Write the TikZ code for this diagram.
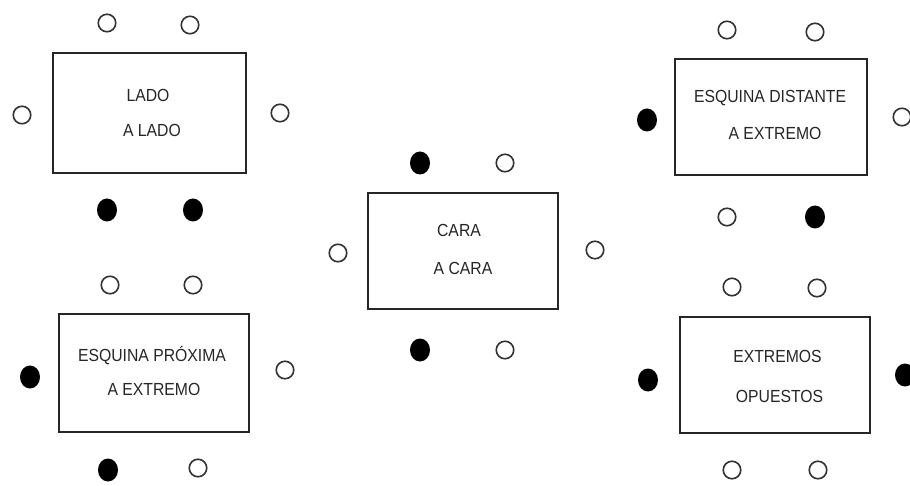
\documentclass[tikz,border=0pt]{standalone}
\usepackage{fontspec}
\setmainfont{Liberation Sans}
\usetikzlibrary{shapes.geometric}
% narrow caption text used inside the tables
\newcommand{\tabletext}[1]{\scalebox{0.9}[1]{#1}}
\begin{document}
\begin{tikzpicture}[x=1pt,y=-1pt,
  tablebox/.style={draw=black!85,line width=1.8pt,rectangle,inner sep=0pt},
  freeseat/.style={draw=black!80,line width=1.6pt,circle,minimum size=17.5pt,inner sep=0pt,fill=white},
  takenseat/.style={fill=black,ellipse,minimum width=20pt,minimum height=23pt,inner sep=0pt},
  lbl/.style={font=\fontsize{17.5}{20}\selectfont,text=black!85,inner sep=0pt,anchor=base}]
\useasboundingbox (0,0) rectangle (910,486);

% Lado a lado
\node[tablebox,minimum width=193pt,minimum height=120pt] (t1) at (149.5,113) {};
\node[lbl] (t1a) at (148,102) {\tabletext{LADO}};
\node[lbl] (t1b) at (152,137) {\tabletext{A LADO}};
\node[freeseat] (s1a) at (107,23) {};
\node[freeseat] (s1b) at (190,25) {};
\node[freeseat] (s1c) at (22,115) {};
\node[freeseat] (s1d) at (280,113) {};
\node[takenseat] (s1e) at (107,210) {};
\node[takenseat] (s1f) at (193,210) {};

% Esquina proxima a extremo
\node[tablebox,minimum width=190pt,minimum height=118pt] (t2) at (154,373) {};
\node[lbl] (t2a) at (152,361) {\tabletext{ESQUINA PRÓXIMA}};
\node[lbl] (t2b) at (154,395) {\tabletext{A EXTREMO}};
\node[freeseat] (s2a) at (110,285) {};
\node[freeseat] (s2b) at (193,285) {};
\node[takenseat] (s2c) at (30,377) {};
\node[freeseat] (s2d) at (285,370) {};
\node[takenseat] (s2e) at (108,470) {};
\node[freeseat] (s2f) at (198,468) {};

% Cara a cara
\node[tablebox,minimum width=190pt,minimum height=116pt] (t5) at (463,251) {};
\node[lbl] (t5a) at (459,237) {\tabletext{CARA}};
\node[lbl] (t5b) at (463,275) {\tabletext{A CARA}};
\node[takenseat] (s5a) at (420,163) {};
\node[freeseat] (s5b) at (505,163) {};
\node[freeseat] (s5c) at (338,253) {};
\node[freeseat] (s5d) at (595,250) {};
\node[takenseat] (s5e) at (420,350) {};
\node[freeseat] (s5f) at (505,350) {};

% Esquina distante a extremo
\node[tablebox,minimum width=192pt,minimum height=116pt] (t3) at (771,117) {};
\node[lbl] (t3a) at (770,103) {\tabletext{ESQUINA DISTANTE}};
\node[lbl] (t3b) at (775,140) {\tabletext{A EXTREMO}};
\node[freeseat] (s3a) at (727,30) {};
\node[freeseat] (s3b) at (815,32) {};
\node[takenseat] (s3c) at (647,120) {};
\node[freeseat] (s3d) at (902,117) {};
\node[freeseat] (s3e) at (727,217) {};
\node[takenseat] (s3f) at (815,217) {};

% Extremos opuestos
\node[tablebox,minimum width=190pt,minimum height=116pt] (t4) at (775,375) {};
\node[lbl] (t4a) at (777.5,362) {\tabletext{EXTREMOS}};
\node[lbl] (t4b) at (779.5,402) {\tabletext{OPUESTOS}};
\node[freeseat] (s4a) at (732,287) {};
\node[freeseat] (s4b) at (817,288) {};
\node[takenseat] (s4c) at (648,380) {};
\node[takenseat] (s4d) at (905,375) {};
\node[freeseat] (s4e) at (732,470) {};
\node[freeseat] (s4f) at (818,470) {};
\end{tikzpicture}
\end{document}
